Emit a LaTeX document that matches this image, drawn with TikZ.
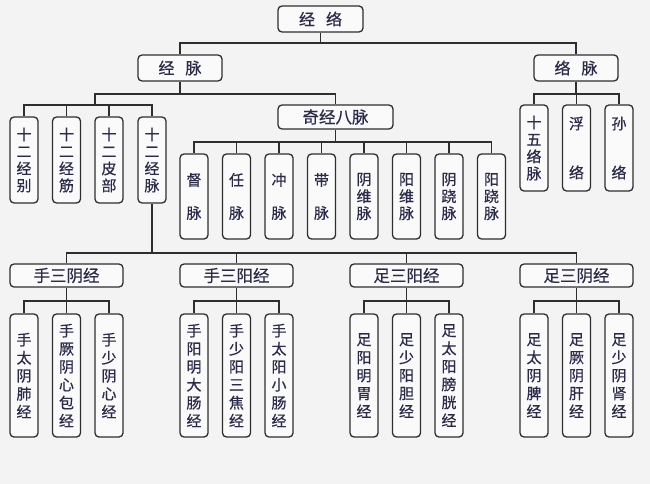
\documentclass[tikz,border=0pt]{standalone}
\usepackage{fontspec}
\newfontfamily\cjk[FakeBold=0.5]{Noto Sans CJK SC}
\definecolor{bgc}{HTML}{F3F3F3}
\definecolor{boxc}{HTML}{FAFAFA}
\definecolor{linec}{HTML}{2E2E2E}
\definecolor{txtc}{HTML}{2A2A4A}
\begin{document}
\begin{tikzpicture}[x=1pt,y=-1pt,
  box/.style={draw=linec, line width=1.3pt, rounded corners=4pt, fill=boxc, text=txtc, inner sep=0pt, align=center, font=\cjk\fontsize{16}{18}\selectfont},
  topbox/.style={box, minimum width=85pt, minimum height=26pt},
  grpbox/.style={box, minimum width=113pt, minimum height=23pt, font=\cjk\fontsize{16.5}{18}\selectfont},
  vbox/.style={box, minimum width=28pt, minimum height=86pt, font=\cjk\fontsize{15}{17}\selectfont},
  leafbox/.style={box, minimum width=28pt, minimum height=123pt, font=\cjk\fontsize{15}{18}\selectfont},
  conn/.style={draw=linec, line width=1.3pt}]
\fill[bgc] (0,0) rectangle (650,484);
\useasboundingbox (0,0) rectangle (650,484);

% level 0 and 1
\node[topbox] (top) at (320.5,19) {经\hspace{11pt}络};
\node[topbox, minimum width=84pt] (jm) at (180,68) {经\hspace{11pt}脉};
\node[topbox, minimum width=84pt] (lm) at (576,68) {络\hspace{11pt}脉};
\node[box, minimum width=115pt, minimum height=24pt, font=\cjk\fontsize{16.5}{18}\selectfont] (qj) at (335.5,117) {奇经八脉};

% twelve branches
\node[vbox] (r1) at (24,160) {十\\二\\经\\别};
\node[vbox] (r2) at (66.5,160) {十\\二\\经\\筋};
\node[vbox] (r3) at (109,160) {十\\二\\皮\\部};
\node[vbox] (r4) at (152,160) {十\\二\\经\\脉};

% luo branches
\node[vbox] (l1) at (534,148) {十\\五\\络\\脉};
\node[vbox] (l2) at (576.5,148) {浮\\[32pt]络};
\node[vbox] (l3) at (619,148) {孙\\[32pt]络};

% eight extraordinary
\node[vbox, minimum height=85pt] (e1) at (194,196.5) {督\\[16pt]脉};
\node[vbox, minimum height=85pt] (e2) at (236.5,196.5) {任\\[16pt]脉};
\node[vbox, minimum height=85pt] (e3) at (279,196.5) {冲\\[16pt]脉};
\node[vbox, minimum height=85pt] (e4) at (321.5,196.5) {带\\[16pt]脉};
\node[vbox, minimum height=85pt] (e5) at (364,196.5) {阴\\维\\脉};
\node[vbox, minimum height=85pt] (e6) at (406.5,196.5) {阳\\维\\脉};
\node[vbox, minimum height=85pt] (e7) at (449,196.5) {阴\\跷\\脉};
\node[vbox, minimum height=85pt] (e8) at (491.5,196.5) {阳\\跷\\脉};

% groups
\node[grpbox] (g1) at (66.5,275.5) {手三阴经};
\node[grpbox] (g2) at (236.5,275.5) {手三阳经};
\node[grpbox] (g3) at (406.5,275.5) {足三阳经};
\node[grpbox] (g4) at (576.5,275.5) {足三阴经};

% leaves
\node[leafbox] (a1) at (24,375.5) {手\\太\\阴\\肺\\经};
\node[leafbox] (a2) at (66.5,375.5) {手\\厥\\阴\\心\\包\\经};
\node[leafbox] (a3) at (109,375.5) {手\\少\\阴\\心\\经};
\node[leafbox] (b1) at (194,375.5) {手\\阳\\明\\大\\肠\\经};
\node[leafbox] (b2) at (236.5,375.5) {手\\少\\阳\\三\\焦\\经};
\node[leafbox] (b3) at (279,375.5) {手\\太\\阳\\小\\肠\\经};
\node[leafbox] (c1) at (364,375.5) {足\\阳\\明\\胃\\经};
\node[leafbox] (c2) at (406.5,375.5) {足\\少\\阳\\胆\\经};
\node[leafbox] (c3) at (449,375.5) {足\\太\\阳\\膀\\胱\\经};
\node[leafbox] (d1) at (534,375.5) {足\\太\\阴\\脾\\经};
\node[leafbox] (d2) at (576.5,375.5) {足\\厥\\阴\\肝\\经};
\node[leafbox] (d3) at (619,375.5) {足\\少\\阴\\肾\\经};

% bus coordinates
\coordinate (y43) at (0,43);
\coordinate (y94) at (0,94);
\coordinate (j1) at (95,94);
\coordinate (j2) at (95,105);
\coordinate (y142) at (0,142);
\coordinate (y253) at (0,253);
\coordinate (y301) at (0,301);

% connectors
\draw[conn] (top.south) -- (top.south |- y43);
\foreach \c in {jm,lm} \draw[conn] (top.south |- y43) -| (\c.north);
\draw[conn] (jm.south) -- (jm.south |- y94) -- (j1) -- (j2);
\draw[conn] (jm.south |- y94) -| (qj.north);
\foreach \c in {r1,r2,r3,r4} \draw[conn] (j2) -| (\c.north);
\draw[conn] (lm.south) -- (lm.south |- y94);
\foreach \c in {l1,l2,l3} \draw[conn] (lm.south |- y94) -| (\c.north);
\draw[conn] (qj.south) -- (qj.south |- y142);
\foreach \c in {e1,e2,e3,e4,e5,e6,e7,e8} \draw[conn] (qj.south |- y142) -| (\c.north);
\draw[conn] (r4.south) -- (r4.south |- y253);
\foreach \c in {g1,g2,g3,g4} \draw[conn] (r4.south |- y253) -| (\c.north);
\foreach \g/\x/\y/\z in {g1/a1/a2/a3, g2/b1/b2/b3, g3/c1/c2/c3, g4/d1/d2/d3}{
  \draw[conn] (\g.south) -- (\g.south |- y301);
  \foreach \c in {\x,\y,\z} \draw[conn] (\g.south |- y301) -| (\c.north);
}
\end{tikzpicture}
\end{document}
